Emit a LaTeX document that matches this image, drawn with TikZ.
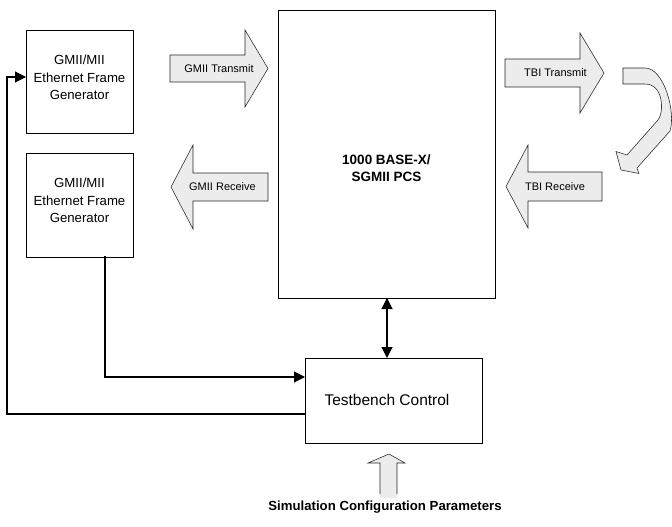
\documentclass[tikz,border=0pt]{standalone}
\usepackage{fontspec}
\setmainfont{Liberation Sans}
\usetikzlibrary{arrows.meta}
\begin{document}
\begin{tikzpicture}[x=1pt,y=-1pt,
  box/.style={draw=black, line width=0.9pt},
  blk/.style={draw=black!85, line width=0.55pt, fill=gray!15, line join=miter},
  lbl/.style={font=\fontsize{11}{13}\selectfont, inner sep=0pt},
  btxt/.style={font=\fontsize{13.2}{17.5}\selectfont, align=center, inner sep=0pt},
  conn/.style={line width=1.1pt},
  tip/.style={-{Triangle[length=11pt,width=11pt]}}]
\useasboundingbox (0,0) rectangle (672,527);

% boxes
\node[box, minimum width=107pt, minimum height=103pt] (gen1) at (79.5,81.5) {};
\node[btxt] (gen1t) at (79.5,77.5) {GMII/MII\\Ethernet Frame\\Generator};
\node[box, minimum width=107pt, minimum height=104pt] (gen2) at (79.5,205) {};
\node[btxt] (gen2t) at (79.5,200.5) {GMII/MII\\Ethernet Frame\\Generator};
\node[box, minimum width=217pt, minimum height=288pt] (pcs) at (386.5,154) {};
\node[btxt, font=\fontsize{13.5}{16.5}\selectfont\bfseries] (pcst) at (386.5,168) {1000 BASE-X/\\SGMII PCS};
\node[box, minimum width=177pt, minimum height=85pt] (tb) at (393.5,400.5) {};
\node[btxt, font=\fontsize{15.5}{18}\selectfont] (tbt) at (387,400) {Testbench Control};

% block arrows
\draw[blk] (170,55) -- (245,55) -- (245,30) -- (268,68.5) -- (245,107) -- (245,82) -- (170,82) -- cycle;
\node[lbl] (gmiitx) at (219,68.5) {GMII Transmit};
\draw[blk] (171,187) -- (193,145) -- (193,173) -- (268,173) -- (268,201) -- (193,201) -- (193,229) -- cycle;
\node[lbl] (gmiirx) at (222.5,187) {GMII Receive};
\draw[blk] (505,59) -- (580,59) -- (580,33) -- (604,73) -- (580,113) -- (580,87) -- (505,87) -- cycle;
\node[lbl] (tbitx) at (555.5,73) {TBI Transmit};
\draw[blk] (506,186.5) -- (528,145) -- (528,172) -- (602,172) -- (602,201) -- (528,201) -- (528,228) -- cycle;
\node[lbl] (tbirx) at (555,187) {TBI Receive};

% U-turn arrow
\draw[blk] (623,68) -- (645,68) .. controls (664,68) and (676,112) .. (670,131)
  -- (637,168) -- (639,173.5) -- (621,170) -- (616,151.5) -- (627,155) -- (658,120)
  .. controls (664,113) and (664,84) .. (645,84) -- (623,84) -- cycle;

% configuration input arrow
\fill[gray!15] (380,498) -- (380,463) -- (368,463) -- (389,454) -- (405,463) -- (397,463) -- (397,498) -- cycle;
\draw[draw=black!85, line width=0.55pt, line join=miter] (380,494) -- (380,463) -- (368,463) -- (389,454) -- (405,463) -- (397,463) -- (397,494);
\node[font=\fontsize{13.2}{15}\selectfont\bfseries, inner sep=0pt] (simcfg) at (385,507) {Simulation Configuration Parameters};

% connectors
\coordinate (pcsb) at (387,298);
\coordinate (tbtop) at (387,358);
\draw[conn, {Triangle[length=11pt,width=11pt]}-{Triangle[length=11pt,width=11pt]}] (pcsb) -- (tbtop);
\coordinate (g2out) at (105,256);
\coordinate (tbin) at (305,377);
\draw[conn, tip] (g2out) |- (tbin);
\coordinate (tbout) at (305,414);
\coordinate (corner) at (7,414);
\coordinate (g1in) at (26,77);
\draw[conn, tip] (tbout) -- (corner) |- (g1in);
\end{tikzpicture}
\end{document}
